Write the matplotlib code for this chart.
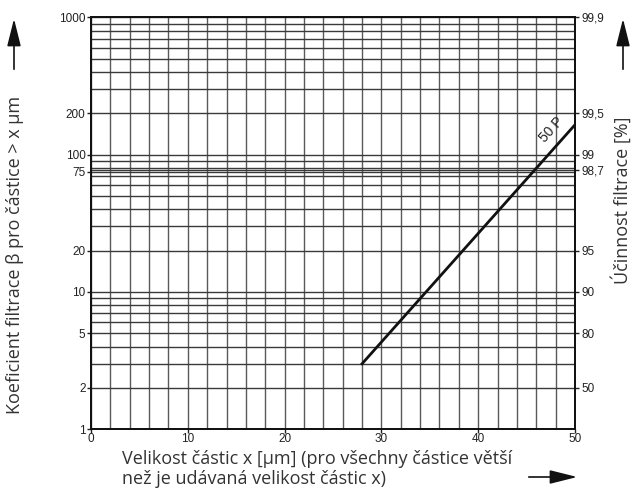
import matplotlib
matplotlib.use("Agg")
import matplotlib.pyplot as plt
import numpy as np

# ---- data ----
line_x = [28, 50]
line_beta = [3, 165]
line_label = "50 P"

x_grid = list(range(0, 51, 2))
y_grid = [1, 2, 3, 4, 5, 6, 7, 8, 9, 10, 20, 30, 40, 50, 60, 70, 75, 76.9, 80, 90,
          100, 200, 300, 400, 500, 600, 700, 800, 900, 1000]

x_ticks = [0, 10, 20, 30, 40, 50]
left_ticks = [1, 2, 5, 10, 20, 75, 100, 200, 1000]
left_labels = ["1", "2", "5", "10", "20", "75", "100", "200", "1000"]
right_ticks = [2, 5, 10, 20, 76.9, 100, 200, 1000]
right_labels = ["50", "80", "90", "95", "98,7", "99", "99,5", "99,9"]

W, H = 632, 495
fig = plt.figure(figsize=(W / 100, H / 100), dpi=100)
ax = fig.add_axes([91 / W, 1 - 429.3 / H, (575 - 91) / W, (429.3 - 17.3) / H])
ax.set_yscale("log")
ax.set_xlim(0, 50)
ax.set_ylim(1, 1000)

for xv in x_grid:
    ax.axvline(xv, color="#5a5a5a", lw=1.0, zorder=1)
for yv in y_grid:
    ax.axhline(yv, color="#3a3a3a", lw=1.0, zorder=1)

ax.plot(line_x, line_beta, color="#111111", lw=2.0, zorder=3)
ax.text(47.6, 152, line_label, rotation=48, ha="center", va="center",
        fontsize=10, family="Liberation Sans", color="#222222", zorder=4)

tick_font = dict(fontsize=8.5, family="Liberation Sans", color="#222222")
ax.set_xticks(x_ticks)
ax.set_xticklabels([str(v) for v in x_ticks], **tick_font)
ax.set_yticks(left_ticks)
ax.set_yticklabels(left_labels, **tick_font)
ax.yaxis.set_minor_locator(matplotlib.ticker.NullLocator())
ax.tick_params(axis="both", length=3, width=1, pad=1, color="#222222")
ax.tick_params(axis="x", pad=0)

ax2 = ax.twinx()
ax2.set_yscale("log")
ax2.set_ylim(1, 1000)
ax2.set_yticks(right_ticks)
ax2.set_yticklabels(right_labels, **tick_font)
ax2.yaxis.set_minor_locator(matplotlib.ticker.NullLocator())
ax2.tick_params(axis="y", length=3, width=1, pad=2, color="#222222")

for a in (ax, ax2):
    for s in a.spines.values():
        s.set_color("#111111")
        s.set_linewidth(1.3)

label_font = dict(fontsize=13, family="Open Sans", color="#333333")
fig.text(15 / W, 1 - 255 / H, "Koeficient filtrace β pro částice > x µm",
         rotation=90, ha="center", va="center", **label_font)
fig.text(621 / W, 1 - 200 / H, "Účinnost filtrace [%]",
         rotation=90, ha="center", va="center", **label_font)
fig.text(122 / W, 1 - 469 / H,
         "Velikost částic x [µm] (pro všechny částice větší\nnež je udávaná velikost částic x)",
         ha="left", va="center", linespacing=1.1, **label_font)

style = "-|>,head_length=1.2,head_width=0.3"
fig.add_artist(matplotlib.patches.FancyArrowPatch(
    (14 / W, 1 - 72 / H), (14 / W, 1 - 16 / H), transform=fig.transFigure,
    arrowstyle=style, color="#111111", lw=1.2, mutation_scale=14))
fig.add_artist(matplotlib.patches.FancyArrowPatch(
    (623 / W, 1 - 72 / H), (623 / W, 1 - 16 / H), transform=fig.transFigure,
    arrowstyle=style, color="#111111", lw=1.2, mutation_scale=14))
fig.add_artist(matplotlib.patches.FancyArrowPatch(
    (526 / W, 1 - 477 / H), (580 / W, 1 - 477 / H), transform=fig.transFigure,
    arrowstyle=style, color="#111111", lw=1.2, mutation_scale=14))

fig.savefig("out.png", dpi=100)
